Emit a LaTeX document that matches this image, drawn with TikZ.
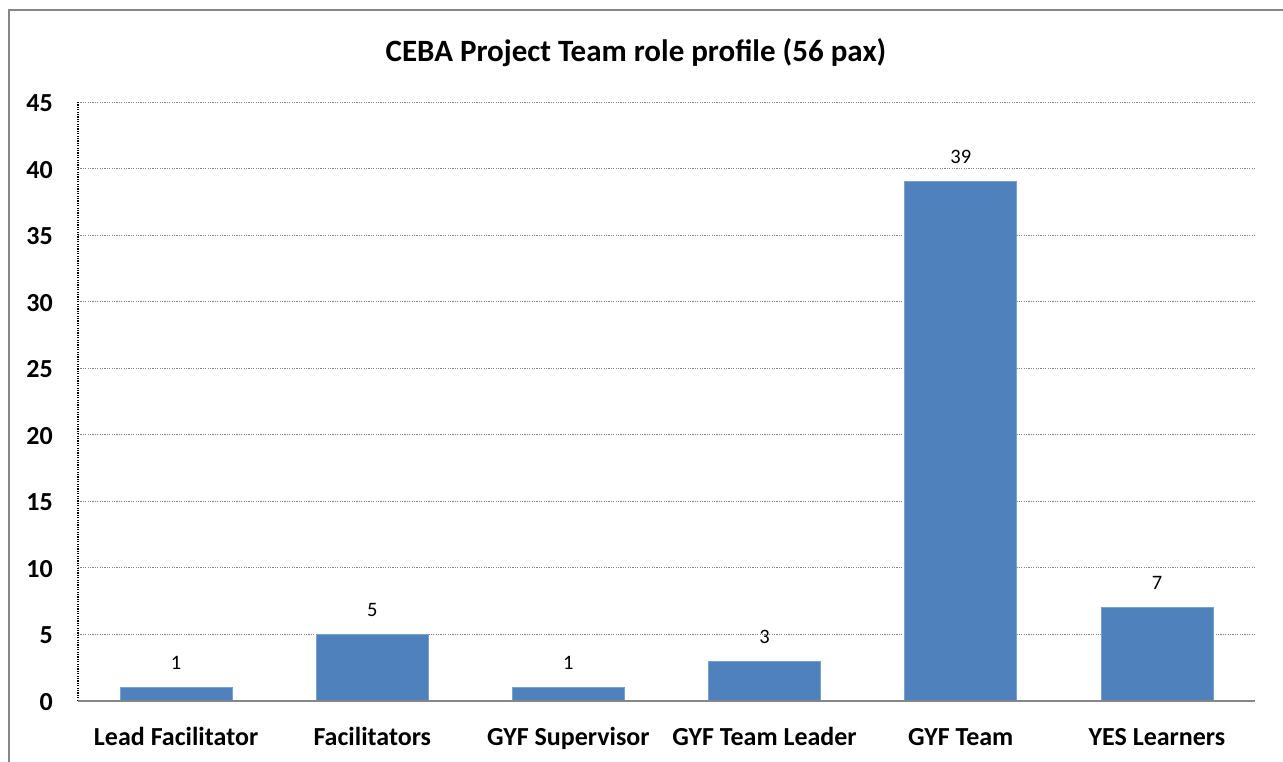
\documentclass[tikz,border=0pt]{standalone}
\usepackage{fontspec}
\setmainfont{Carlito}
\definecolor{barblue}{HTML}{4F81BD}
\definecolor{baredge}{HTML}{7BA0CD}
\definecolor{gridgray}{HTML}{868686}
\definecolor{framegray}{HTML}{868686}
\begin{document}
\begin{tikzpicture}[x=1pt,y=-1pt,
  gridline/.style={gridgray,line width=1pt,dash pattern=on 1.2pt off 1.2pt},
  yaxis/.style={black,line width=1.3pt,dash pattern=on 1.2pt off 1.2pt},
  xaxis/.style={gridgray,line width=1.6pt},
  barbox/.style={fill=barblue,draw=baredge,line width=0.8pt},
  ticklabel/.style={anchor=base east,font=\bfseries\fontsize{26}{30}\selectfont,inner sep=0pt},
  catlabel/.style={anchor=base,font=\bfseries\fontsize{26}{30}\selectfont,inner sep=0pt},
  datalabel/.style={anchor=base,font=\fontsize{20.5}{24}\selectfont,inner sep=0pt},
  titlelabel/.style={anchor=base,font=\bfseries\fontsize{31}{36}\selectfont,inner sep=0pt}]
\useasboundingbox (0,0) rectangle (1283,762);
\fill[white] (0,0) rectangle (1283,762);
% frame
\draw[framegray,line width=1.6pt] (9,775) -- (9,10) -- (1300,10);
% title
\node[titlelabel] (title) at (636,61.5) {CEBA Project Team role profile (56 pax)};
% gridlines and tick labels
\foreach \v in {5,10,...,45}{
  \draw[gridline] (78,{701-13.311*\v}) -- (1255,{701-13.311*\v});
}
\foreach \v in {0,5,10,...,45}{
  \node[ticklabel] (tick\v) at (53,{701-13.311*\v+9.5}) {\v};
}
% bars
\foreach \i/\val/\name in {0/1/Lead Facilitator,1/5/Facilitators,2/1/GYF Supervisor,3/3/GYF Team Leader,4/39/GYF Team,5/7/YES Learners}{
  \pgfmathsetmacro{\cx}{78+196.17*(\i+0.5)}
  \draw[barbox] ({\cx-56},701) rectangle ({\cx+56},{701-13.311*\val});
  \node[datalabel] (d\i) at (\cx,{701-13.311*\val-18}) {\val};
  \node[catlabel] (c\i) at (\cx,745) {\name};
}
% axes
\draw[yaxis] (78,102) -- (78,701);
\draw[xaxis] (78,701) -- (1255,701);
\end{tikzpicture}
\end{document}
